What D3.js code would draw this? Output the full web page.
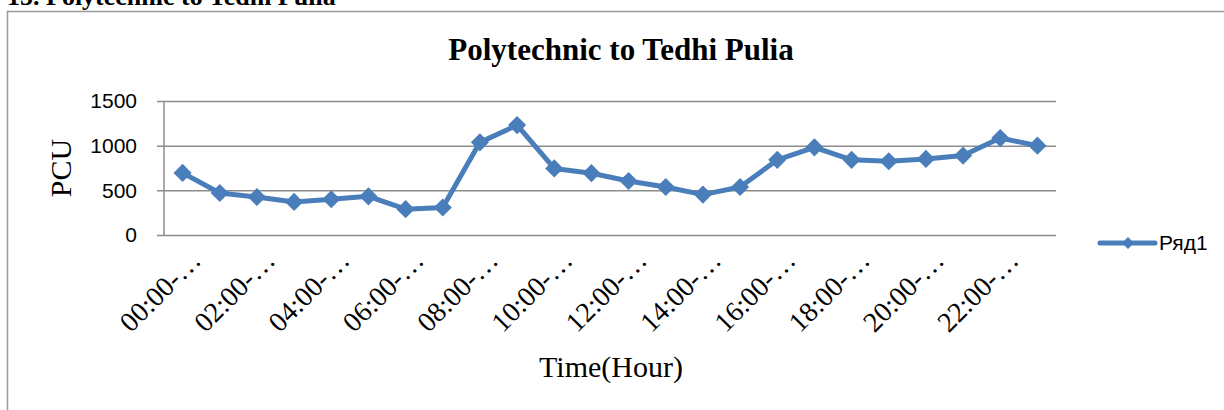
<!DOCTYPE html>
<html>
<head>
<meta charset="utf-8">
<script src="https://cdn.jsdelivr.net/npm/d3@7"></script>
<style>
  body { margin: 0; background: #fff; }
  svg { display: block; }
</style>
</head>
<body>
<div id="chart"></div>
<script>
// hourly PCU counts, Polytechnic to Tedhi Pulia
const hours = ["00:00-01:00", "01:00-02:00", "02:00-03:00", "03:00-04:00", "04:00-05:00", "05:00-06:00",
    "06:00-07:00", "07:00-08:00", "08:00-09:00", "09:00-10:00", "10:00-11:00", "11:00-12:00",
    "12:00-13:00", "13:00-14:00", "14:00-15:00", "15:00-16:00", "16:00-17:00", "17:00-18:00",
    "18:00-19:00", "19:00-20:00", "20:00-21:00", "21:00-22:00", "22:00-23:00", "23:00-24:00"];
const pcu = [695, 470, 425, 370, 400, 433, 289, 308, 1037, 1230, 745, 692,
    605, 537, 452, 537, 841, 981, 841, 826, 852, 889, 1085, 1000];
const yTicks = [0, 500, 1000, 1500];
const seriesName = "Ряд1";

const width = 1224, height = 410;
const blue = "#4a7ebb";
const gridColor = "#8c8c8c";
const serif = "'Liberation Serif', 'Times New Roman', serif";
const sans = "'Liberation Sans', Arial, sans-serif";

const svg = d3.select("#chart").append("svg")
    .attr("width", width)
    .attr("height", height);

// section heading, mostly above the page edge like the scan
svg.append("text")
    .attr("x", 7)
    .attr("y", 5)
    .attr("font-family", serif)
    .attr("font-weight", "bold")
    .attr("font-size", 26)
    .attr("fill", "#000")
    .text("15.  Polytechnic to Tedhi Pulia");

// chart frame (right and bottom edges are off the page)
svg.append("path")
    .attr("d", `M7.5,${height + 5}V11.5H${width + 5}`)
    .attr("fill", "none")
    .attr("stroke", "#9a9a9a")
    .attr("stroke-width", 1.5);

const x = d3.scaleBand()
    .domain(hours)
    .range([164, 1056])
    .padding(0);

const y = d3.scaleLinear()
    .domain([0, 1500])
    .range([235, 101]);

// gridlines with short outer ticks
svg.append("g")
    .attr("transform", "translate(157,0)")
    .call(d3.axisLeft(y).tickValues(yTicks).tickSize(-(1056 - 157)).tickFormat(""))
    .call(g => g.select(".domain").remove())
    .call(g => g.selectAll("line").attr("stroke", gridColor).attr("stroke-width", 1.5));

// y labels
svg.append("g")
    .attr("transform", "translate(157,0)")
    .call(d3.axisLeft(y).tickValues(yTicks).tickSize(0).tickPadding(20).tickFormat(d3.format("d")))
    .call(g => g.select(".domain").remove())
    .call(g => g.selectAll("text")
        .attr("font-family", sans)
        .attr("font-size", 21)
        .attr("fill", "#000"));

// vertical axis line
svg.append("line")
    .attr("x1", 164).attr("x2", 164)
    .attr("y1", y(1500)).attr("y2", y(0))
    .attr("stroke", gridColor)
    .attr("stroke-width", 1.5);

// x labels, every second hour, truncated like the original
svg.append("g")
    .attr("class", "x-axis")
    .selectAll("text")
    .data(hours.filter((d, i) => i % 2 === 0))
    .join("text")
    .attr("transform", d => `translate(${x(d) + x.bandwidth() / 2 + 20},262) rotate(-45)`)
    .attr("text-anchor", "end")
    .attr("font-family", serif)
    .attr("font-size", 28)
    .attr("fill", "#000")
    .text(d => d.slice(0, 6) + "\u2026");

const line = d3.line()
    .x((d, i) => x(hours[i]) + x.bandwidth() / 2)
    .y(d => y(d));

svg.append("path")
    .datum(pcu)
    .attr("d", line)
    .attr("fill", "none")
    .attr("stroke", blue)
    .attr("stroke-width", 5)
    .attr("stroke-linejoin", "round");

const diamond = d3.symbol().type(d3.symbolDiamond2);

svg.append("g")
    .selectAll("path")
    .data(pcu)
    .join("path")
    .attr("transform", (d, i) => `translate(${x(hours[i]) + x.bandwidth() / 2},${y(d)})`)
    .attr("d", diamond.size(210)())
    .attr("fill", blue);

// titles
svg.append("text")
    .attr("x", 621)
    .attr("y", 60)
    .attr("text-anchor", "middle")
    .attr("font-family", serif)
    .attr("font-weight", "bold")
    .attr("font-size", 31)
    .attr("fill", "#000")
    .text("Polytechnic to Tedhi Pulia");

svg.append("text")
    .attr("transform", "translate(71,168) rotate(-90)")
    .attr("text-anchor", "middle")
    .attr("font-family", serif)
    .attr("font-size", 30)
    .attr("fill", "#000")
    .text("PCU");

svg.append("text")
    .attr("x", 611)
    .attr("y", 377)
    .attr("text-anchor", "middle")
    .attr("font-family", serif)
    .attr("font-size", 30)
    .attr("fill", "#000")
    .text("Time(Hour)");

// legend
const legend = svg.append("g").attr("transform", "translate(1100,243)");
legend.append("line")
    .attr("x1", 0).attr("x2", 55)
    .attr("stroke", blue)
    .attr("stroke-width", 5)
    .attr("stroke-linecap", "round");
legend.append("path")
    .attr("transform", "translate(28,0)")
    .attr("d", diamond.size(90)())
    .attr("fill", blue);
legend.append("text")
    .attr("x", 59)
    .attr("y", 7)
    .attr("font-family", sans)
    .attr("font-size", 21)
    .attr("fill", "#000")
    .text(seriesName);
</script>
</body>
</html>
